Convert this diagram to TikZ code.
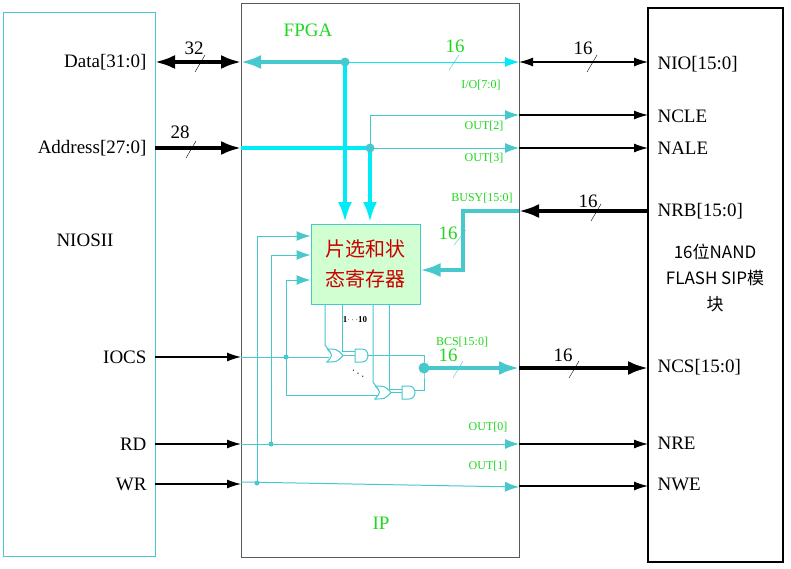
\documentclass[tikz,border=0pt]{standalone}
\usepackage{fontspec}
\setmainfont{Liberation Serif}
\newfontfamily\cjk{Noto Sans CJK SC}
\usetikzlibrary{arrows.meta}
\definecolor{lcyan}{RGB}{70,200,205}
\definecolor{bcyan}{RGB}{0,235,245}
\definecolor{tgreen}{RGB}{30,215,30}
\tikzset{>=latex,
  blk/.style={line width=1.2pt,-{Latex[length=14pt,width=9pt]}},
  blkbig/.style={line width=3.5pt,-{Latex[length=20pt,width=14pt]}},
  thin/.style={lcyan,line width=1pt,-{Latex[length=14pt,width=10pt]}},
  sig/.style={lcyan,line width=1pt},
  bus/.style={line width=3.5pt,bcyan},
  lbl/.style={font=\fontsize{12}{12}\selectfont,text=tgreen},
  pin/.style={font=\fontsize{19}{19}\selectfont},
  dot/.style={circle,fill=lcyan,inner sep=0pt,minimum size=9pt}}
\begin{document}
\begin{tikzpicture}[x=1pt,y=-1pt]
    \useasboundingbox (0,0) rectangle (791,568);

    % boxes
    \draw[lcyan,line width=1pt] (3,12) rectangle (155,556);
    \draw[gray!70!black,line width=1pt] (241,3) rectangle (519,557);
    \draw[black,line width=1.2pt] (648,8) rectangle (783,562);
    \node[text=tgreen,pin] at (308,30) {FPGA};
    \node[text=tgreen,pin] at (381,523) {IP};
    \node[pin] at (85,240) {NIOSII};
    \node[align=center,font=\cjk\fontsize{17}{26}\selectfont] at (715,278) {16位NAND\\FLASH SIP模\\块};

    % left labels
    \foreach \t/\y in {Data[31:0]/62, Address[27:0]/148, IOCS/357, RD/444, WR/484}
        \node[pin,anchor=east] at (150,\y) {\t};
    % right labels
    \foreach \t/\y in {NIO[15:0]/64, NCLE/116, NALE/148, NRB[15:0]/211, NCS[15:0]/367, NRE/443, NWE/484}
        \node[pin,anchor=west] at (654,\y) {\t};

    % coordinates
    \coordinate (dl) at (155,62);  \coordinate (dr) at (241,62);
    \coordinate (dj) at (345,62);  \coordinate (de) at (519,62);
    \coordinate (al) at (155,148); \coordinate (ar) at (241,148);
    \coordinate (aj) at (370,148); \coordinate (ae) at (519,148);
    \coordinate (o2) at (519,115);
    \coordinate (bj) at (463,211); \coordinate (be) at (519,211);

    % register
    \node[draw=lcyan,line width=1pt,fill=green!18,minimum width=109pt,minimum height=80pt,
          align=center,text=red!80!black,font=\cjk\fontsize{20}{30}\selectfont] (reg) at (365.5,264) {片选和状\\态寄存器};

    % data bus
    \draw[line width=3.5pt,{Latex[length=20pt,width=14pt]}-{Latex[length=20pt,width=14pt]}] (dl) -- (dr);
    \draw[line width=3.5pt,lcyan,{Latex[length=20pt,width=14pt]}-] (dr) -- (dj);
    \draw[thin,bcyan] (dj) -- (de);
    \draw[line width=1.2pt,{Latex[length=14pt,width=9pt]}-{Latex[length=14pt,width=9pt]}] (de) -- (648,62);
    \draw[bus,-{Latex[length=20pt,width=14pt]}] (dj) -- (345,222);
    \node[dot] at (dj) {};
    \draw (195,72) -- (205,55); \node[pin] at (194,48) {32};
    \draw[lcyan] (449,70) -- (459,55); \node[pin,text=tgreen] at (455,46) {16};
    \draw (587,72) -- (597,55); \node[pin] at (583,48) {16};
    \node[lbl] at (481,85) {I/O[7:0]};

    % address bus
    \draw[blkbig] (al) -- (ar);
    \draw[bus] (ar) -- (aj);
    \draw[thin] (aj) -- (ae);
    \draw[thin] (aj) -- (370,115) -- (o2);
    \draw[bus,-{Latex[length=20pt,width=14pt]}] (aj) -- (370,222);
    \node[dot] at (aj) {};
    \draw (186,158) -- (196,141); \node[pin] at (180,132) {28};
    \draw[blk] (o2) -- (648,115);
    \draw[blk] (ae) -- (648,148);
    \node[lbl] at (484,126) {OUT[2]};
    \node[lbl] at (484,158) {OUT[3]};

    % busy
    \draw[blkbig] (648,211) -- (be);
    \draw[line width=3.5pt,lcyan,-{Latex[length=20pt,width=14pt]}] (be) -- (bj) -- (463,270) -- (reg.east |- 0,270);
    \draw[lcyan] (454,245) -- (466,230); \node[pin,text=tgreen] at (448,233) {16};
    \draw (591,221) -- (601,204); \node[pin] at (588,201) {16};
    \node[lbl] at (482,198) {BUSY[15:0]};

    % control lines into register
    \draw[thin] (257,484) -- (257,236) -- (reg.west |- 0,236);
    \draw[thin] (271,444) -- (271,255) -- (reg.west |- 0,255);
    \draw[thin] (286,395) -- (286,280) -- (reg.west |- 0,280);

    % gates
    \draw[sig] (327,349) .. controls (333,355) .. (327,362) .. controls (337,362) .. (343,355.5) .. controls (337,349) .. (327,349);
    \draw[sig] (355,349) -- (362,349) .. controls (370,349) and (370,362) .. (362,362) -- (355,362) -- cycle;
    \draw[sig] (343,355.5) -- (355,355.5);
    \draw[sig] (375,386) .. controls (381,392) .. (375,399) .. controls (385,399) .. (391,392.5) .. controls (385,386) .. (375,386);
    \draw[sig] (402,386) -- (409,386) .. controls (417,386) and (417,399) .. (409,399) -- (402,399) -- cycle;
    \draw[sig] (391,392.5) -- (402,392.5);
    \draw[sig] (325,304) -- (325,345) -- (330,352);
    \draw[sig] (342,304) -- (342,351) -- (355,351);
    \draw[sig] (373,304) -- (373,382) -- (378,389);
    \draw[sig] (389,304) -- (389,389) -- (402,389);
    \draw[sig] (286,395) -- (378,395);
    \node[font=\bfseries\fontsize{9}{9}\selectfont] at (355,320) {1$\cdots$10};
    \node[font=\fontsize{12}{12}\selectfont,rotate=-30] at (358,374) {$\cdots$};

    % chip select
    \draw[blk] (155,357) -- (241,357);
    \draw[sig] (241,357) -- (329,357);
    \node[dot,minimum size=5pt] at (286,357) {};
    \coordinate (cj) at (424,368);
    \draw[sig] (366.5,355.5) -- (424,355.5) -- (cj) -- (424,390) -- (413.5,390);
    \draw[bus,lcyan,-{Latex[length=20pt,width=14pt]}] (cj) -- (519,368);
    \node[dot,minimum size=11pt] at (cj) {};
    \draw[blkbig] (519,368) -- (648,368);
    \draw[lcyan] (453,378) -- (463,361); \node[pin,text=tgreen] at (448,355) {16};
    \draw (569,378) -- (579,361); \node[pin] at (563,355) {16};
    \node[lbl] at (462,342) {BCS[15:0]};

    % read / write
    \draw[blk] (155,444) -- (241,444);
    \draw[thin] (241,444) -- (519,444);
    \draw[blk] (519,444) -- (648,444);
    \node[dot,minimum size=5pt] at (271,444) {};
    \node[lbl] at (488,427) {OUT[0]};
    \draw[blk] (155,484) -- (241,484);
    \draw[thin] (241,482) -- (519,487);
    \draw[blk] (519,486) -- (648,486);
    \node[dot,minimum size=5pt] at (257,483) {};
    \node[lbl] at (488,466) {OUT[1]};
\end{tikzpicture}
\end{document}
